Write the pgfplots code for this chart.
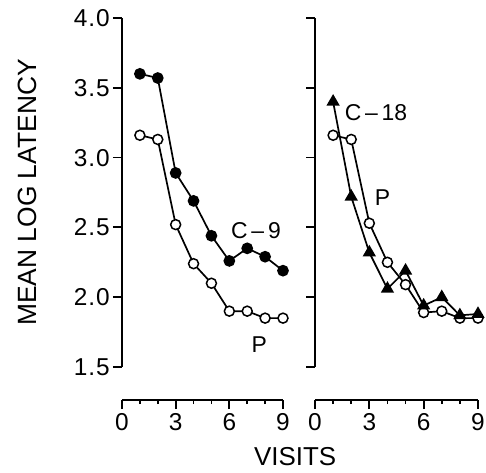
\documentclass[border=0pt]{standalone}
\usepackage{fontspec}
\setmainfont{Liberation Sans}
\newfontfamily\tickfont[LetterSpace=4]{Liberation Sans}
\usepackage{pgfplots}
\pgfplotsset{compat=1.18}
\usepackage{pgfplotstable}

\pgfplotstableread{
x p c9
1 3.16 3.60
2 3.13 3.57
3 2.52 2.89
4 2.24 2.69
5 2.10 2.44
6 1.90 2.26
7 1.90 2.35
8 1.85 2.29
9 1.85 2.19
}\leftdata

\pgfplotstableread{
x p c18
1 3.16 3.40
2 3.13 2.72
3 2.53 2.32
4 2.25 2.06
5 2.09 2.19
6 1.89 1.94
7 1.90 2.00
8 1.85 1.87
9 1.85 1.88
}\rightdata

\pgfplotsset{
  panel/.style={
    scale only axis, height=349bp,
    xmin=0, xmax=9, ymin=1.5, ymax=4.0,
    axis x line=bottom, axis y line=left, axis x line shift=33bp,
    axis line style={-, line width=1.8bp, black},
    tick align=outside, major tick length=9bp, minor tick length=4bp,
    every tick/.style={black, line width=1.8bp},
    xtick={0,3,6,9}, minor xtick={1,2,4,5,7,8},
    ytick={1.5,2,2.5,3,3.5,4},
    /pgf/number format/assume math mode=true,
    ticklabel style={font=\tickfont\fontsize{24.5}{24.5}\selectfont},
    yticklabel style={inner sep=3bp, /pgf/number format/.cd, fixed, fixed zerofill, precision=1},
    xticklabel style={inner sep=4bp},
    clip=false,
  },
  pl/.style={black, line width=1.7bp},
}

\begin{document}
\begin{tikzpicture}
\useasboundingbox (0,0) rectangle (486bp,473bp);
\begin{axis}[panel, width=161bp, at={(122bp,106bp)}, anchor=south west,
  ylabel={MEAN LOG LATENCY},
  ylabel style={at={(axis description cs:-0.59,0.5)}, anchor=center, font=\fontsize{26.5}{26.5}\selectfont},
  xlabel={VISITS},
  xlabel style={at={(axis description cs:1.075,-0.258)}, anchor=center, font=\fontsize{26}{26}\selectfont},
]
\addplot[pl, mark=*, mark size=5bp, mark options={fill=white, line width=1.5bp}] table[x=x, y=p] {\leftdata};
\addplot[pl, mark=*, mark size=5bp, mark options={fill=black}] table[x=x, y=c9] {\leftdata};
\node[font=\fontsize{23}{23}\selectfont] at (axis cs:7.49,2.48) {C\,--\,9};
\node[font=\fontsize{23}{23}\selectfont] at (axis cs:7.68,1.66) {P};
\end{axis}
\begin{axis}[panel, width=163bp, at={(315bp,106bp)}, anchor=south west,
  yticklabels={},
]
\addplot[pl, mark=*, mark size=5bp, mark options={fill=white, line width=1.5bp}] table[x=x, y=p] {\rightdata};
\addplot[pl, mark=triangle*, mark size=6bp, mark options={fill=black}] table[x=x, y=c18] {\rightdata};
\node[font=\fontsize{23}{23}\selectfont, anchor=west] at (axis cs:1.45,3.32) {C\,--\,18};
\node[font=\fontsize{23}{23}\selectfont] at (axis cs:3.73,2.71) {P};
\end{axis}
\end{tikzpicture}
\end{document}
